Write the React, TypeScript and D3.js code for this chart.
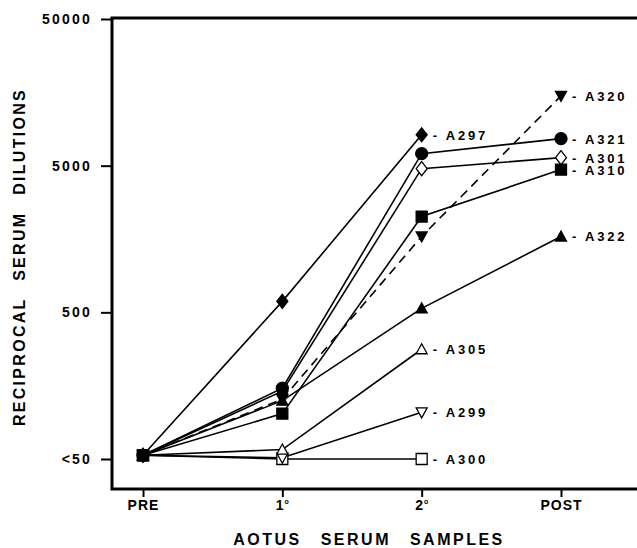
import { useEffect, useRef } from "react";
import * as d3 from "d3";

// samples along the x axis
const samples = ["PRE", "1", "2", "POST"];
const yTicks = [50, 500, 5000, 50000];
const yTickLabels = ["<50", "500", "5000", "50000"];

// one array per animal, reciprocal dilution at each sample
const monkeys = ["A297", "A321", "A301", "A310", "A320", "A322", "A305", "A299", "A300"];
const a297 = [53, 594, 8120];
const a321 = [53, 152, 6040, 7640];
const a301 = [53, 145, 4770, 5670];
const a310 = [53, 102, 2250, 4700];
const a320 = [53, 128, 1645, 14960];
const a322 = [53, 125, 532, 1645];
const a305 = [53, 58, 280];
const a299 = [53, 51, 104];
const a300 = [53, 50, 50];
const values = [a297, a321, a301, a310, a320, a322, a305, a299, a300];
const shapes = ["diamond", "circle", "diamond", "square", "down", "up", "up", "down", "square"];
const filled = [true, true, false, true, true, true, false, false, false];
const dashed = [false, false, false, false, true, false, false, false, false];

const FONT = "'Liberation Sans', Arial, Helvetica, sans-serif";

function markerPath(shape) {
  const p = d3.path();
  if (shape === "circle") {
    p.moveTo(6, 0);
    p.arc(0, 0, 6, 0, Math.PI * 2);
  } else if (shape === "square") {
    p.rect(-5.5, -5.5, 11, 11);
  } else if (shape === "diamond") {
    p.moveTo(0, -7);
    p.lineTo(5.5, 0);
    p.lineTo(0, 7);
    p.lineTo(-5.5, 0);
    p.closePath();
  } else if (shape === "up") {
    p.moveTo(0, -5.5);
    p.lineTo(5.5, 4.5);
    p.lineTo(-5.5, 4.5);
    p.closePath();
  } else {
    p.moveTo(0, 5.5);
    p.lineTo(5.5, -4.5);
    p.lineTo(-5.5, -4.5);
    p.closePath();
  }
  return p.toString();
}

export default function App() {
  const svgRef = useRef(null);

  useEffect(() => {
    const svg = d3.select(svgRef.current);
    svg.selectAll("*").remove();

    const width = 637;
    const height = 548;
    const left = 112;
    const top = 18;
    const bottom = 489;

    svg.attr("width", width).attr("height", height);

    const x = d3.scalePoint().domain(samples).range([143, 561]);
    const y = d3.scaleLog().domain([50, 50000]).range([459, 19]);

    // frame
    svg
      .append("path")
      .attr("d", `M${width},${top}H${left}V${bottom}H${width}`)
      .attr("fill", "none")
      .attr("stroke", "#000")
      .attr("stroke-width", 3);

    // y axis ticks
    const yAxis = d3
      .axisLeft(y)
      .tickValues(yTicks)
      .tickSize(11)
      .tickPadding(9)
      .tickFormat((d, i) => yTickLabels[i]);

    svg
      .append("g")
      .attr("transform", `translate(${left},0)`)
      .call(yAxis)
      .call((g) => g.select(".domain").remove())
      .call((g) => g.selectAll("line").attr("stroke", "#000").attr("stroke-width", 2))
      .call((g) =>
        g
          .selectAll("text")
          .attr("fill", "#000")
          .attr("font-family", FONT)
          .attr("font-weight", "bold")
          .attr("font-size", 14)
          .attr("letter-spacing", 2.2)
      );

    // x axis ticks
    const xAxis = d3.axisBottom(x).tickSize(8).tickPadding(5).tickFormat(() => "");
    const gx = svg
      .append("g")
      .attr("transform", `translate(0,${bottom})`)
      .call(xAxis)
      .call((g) => g.select(".domain").remove())
      .call((g) => g.selectAll("line").attr("stroke", "#000").attr("stroke-width", 2));

    gx.selectAll(".tick text").each(function (d) {
      const t = d3
        .select(this)
        .attr("y", 21)
        .attr("dy", 0)
        .attr("fill", "#000")
        .attr("font-family", FONT)
        .attr("font-weight", "bold")
        .attr("font-size", 14)
        .attr("letter-spacing", 1);
      t.append("tspan").text(d);
      if (d === "1" || d === "2") {
        t.append("tspan").attr("font-size", 7).attr("dy", -6).text("o");
      }
    });

    // axis titles
    svg
      .append("text")
      .attr("x", 369)
      .attr("y", 545)
      .attr("text-anchor", "middle")
      .attr("font-family", FONT)
      .attr("font-weight", "bold")
      .attr("font-size", 16)
      .attr("letter-spacing", 2.5)
      .attr("word-spacing", 12)
      .text("AOTUS SERUM SAMPLES");

    svg
      .append("text")
      .attr("transform", `translate(25,257) rotate(-90)`)
      .attr("text-anchor", "middle")
      .attr("font-family", FONT)
      .attr("font-weight", "bold")
      .attr("font-size", 16)
      .attr("letter-spacing", 2.3)
      .attr("word-spacing", 10)
      .text("RECIPROCAL SERUM DILUTIONS");

    const line = d3
      .line()
      .x((d) => x(samples[d[0]]))
      .y((d) => y(d[1]));

    const series = monkeys.map((name, i) => ({
      name,
      shape: shapes[i],
      filled: filled[i],
      dashed: dashed[i],
      pts: values[i].map((v, j) => [j, v]),
    }));

    // lines
    svg
      .append("g")
      .selectAll("path")
      .data(series)
      .join("path")
      .attr("d", (d) => line(d.pts))
      .attr("fill", "none")
      .attr("stroke", "#000")
      .attr("stroke-width", 1.6)
      .attr("stroke-dasharray", (d) => (d.dashed ? "9,6" : null));

    // markers: open ones first, filled on top; the PRE blob reads as a filled square
    const marks = [];
    series.forEach((s) => s.pts.forEach((p) => marks.push({ s, p })));
    const rank = (m) =>
      (m.s.filled ? 10 : 0) + (m.p[0] === 0 && m.s.shape === "square" && m.s.filled ? 100 : 0) -
      series.indexOf(m.s);
    marks.sort((a, b) => rank(a) - rank(b));

    svg
      .append("g")
      .selectAll("path")
      .data(marks)
      .join("path")
      .attr("transform", (d) => `translate(${x(samples[d.p[0]])},${y(d.p[1])})`)
      .attr("d", (d) => markerPath(d.s.shape))
      .attr("fill", (d) => (d.s.filled ? "#000" : "#fff"))
      .attr("stroke", "#000")
      .attr("stroke-width", 1.3);

    // end labels
    svg
      .append("g")
      .selectAll("text")
      .data(series)
      .join("text")
      .attr("x", (d) => x(samples[d.pts.length - 1]) + 11)
      .attr("y", (d) => y(d.pts[d.pts.length - 1][1]) + 5)
      .attr("font-family", FONT)
      .attr("font-weight", "bold")
      .attr("font-size", 13)
      .attr("letter-spacing", 2.8)
      .attr("xml:space", "preserve")
      .text((d) => `- ${d.name}`);
  }, []);

  return (
    <div style={{ position: "absolute", left: 0, top: 0 }}>
      <svg ref={svgRef} style={{ display: "block", background: "#fff" }}></svg>
    </div>
  );
}
